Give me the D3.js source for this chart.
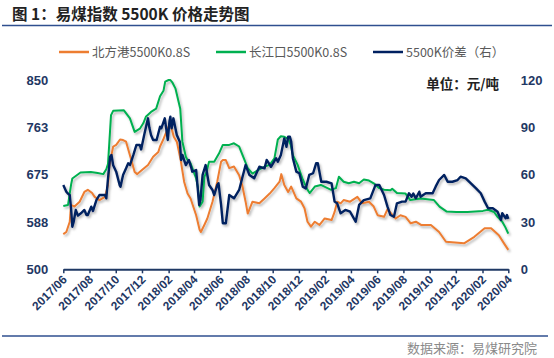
<!DOCTYPE html>
<html><head><meta charset="utf-8">
<script src="https://cdn.jsdelivr.net/npm/d3@7/dist/d3.min.js"></script>
<style>body{margin:0;background:#fff}</style>
</head><body>
<svg id="c" width="554" height="358"></svg>
<script>
const titleText = "图 1：易煤指数 5500K 价格走势图";
const unitText = "单位：元/吨";
const sourceText = "数据来源：易煤研究院";
const seriesNames = ["北方港5500K0.8S", "长江口5500K0.8S", "5500K价差（右）"];
const leftTicks = [500, 587.5, 675, 762.5, 850];
const rightTicks = [0, 30, 60, 90, 120];
const xStart = "2017-06-01", xEnd = "2020-04-01";

// 北方港5500K0.8S (left axis)
const north = [
["2017-06-01",565],["2017-06-08",569],["2017-06-16",588],["2017-06-19",619],["2017-06-27",616],
["2017-07-09",625],["2017-07-20",643],["2017-07-28",647],["2017-08-07",641],["2017-08-13",634],
["2017-08-24",628],["2017-09-06",634],["2017-09-13",656],["2017-09-16",690],["2017-09-21",711],
["2017-09-25",727],["2017-10-02",730],["2017-10-11",740],["2017-10-18",739],["2017-10-25",736],
["2017-11-03",711],["2017-11-14",680],["2017-11-20",676],["2017-12-03",685],["2017-12-15",693],
["2017-12-27",708],["2018-01-08",717],["2018-01-12",727],["2018-01-19",739],["2018-01-28",757],
["2018-02-04",770],["2018-02-08",760],["2018-02-13",745],["2018-02-20",736],["2018-03-01",702],
["2018-03-09",662],["2018-03-17",640],["2018-03-24",631],["2018-04-06",600],["2018-04-14",573],
["2018-04-17",569],["2018-04-25",582],["2018-05-02",594],["2018-05-14",625],["2018-05-25",662],
["2018-06-03",699],["2018-06-07",702],["2018-06-14",702],["2018-06-22",687],["2018-07-03",690],
["2018-07-15",674],["2018-07-22",656],["2018-07-30",625],["2018-08-04",603],["2018-08-15",625],
["2018-08-31",622],["2018-09-12",631],["2018-09-24",640],["2018-10-05",650],["2018-10-17",662],
["2018-10-21",676],["2018-10-28",656],["2018-11-06",643],["2018-11-13",653],["2018-11-25",631],
["2018-12-06",625],["2018-12-14",613],["2018-12-21",588],["2018-12-29",579],["2019-01-07",588],
["2019-01-18",582],["2019-01-30",594],["2019-02-15",591],["2019-02-22",606],["2019-02-28",625],
["2019-03-08",622],["2019-03-15",628],["2019-03-30",625],["2019-04-16",634],["2019-04-27",622],
["2019-05-13",625],["2019-05-24",616],["2019-06-02",600],["2019-06-17",597],["2019-06-25",611],
["2019-07-06",601],["2019-07-14",594],["2019-07-25",600],["2019-08-06",597],["2019-08-18",585],
["2019-08-30",588],["2019-09-11",582],["2019-10-04",582],["2019-10-23",569],["2019-11-08",551],
["2019-12-20",548],["2020-01-13",560],["2020-02-06",576],["2020-02-21",576],["2020-03-10",563],
["2020-03-22",548],["2020-04-01",536]
];

// 长江口5500K0.8S (left axis)
const river = [
["2017-06-01",617],["2017-06-12",619],["2017-06-19",656],["2017-06-22",668],["2017-07-11",679],
["2017-08-04",680],["2017-08-20",678],["2017-09-02",676],["2017-09-09",685],["2017-09-13",695],
["2017-09-20",785],["2017-09-25",793],["2017-10-20",794],["2017-11-03",779],["2017-11-14",754],
["2017-11-26",760],["2017-12-04",770],["2017-12-10",782],["2017-12-22",791],["2018-01-03",797],
["2018-01-12",820],["2018-01-20",830],["2018-01-24",847],["2018-02-01",850],["2018-02-05",850],
["2018-02-10",845],["2018-02-17",834],["2018-02-28",797],["2018-03-05",736],["2018-03-13",708],
["2018-03-17",702],["2018-03-24",696],["2018-04-06",668],["2018-04-10",652],["2018-04-14",616],
["2018-04-21",625],["2018-04-25",671],["2018-04-30",680],["2018-05-06",699],["2018-05-18",699],
["2018-05-29",714],["2018-06-07",730],["2018-06-22",730],["2018-07-03",733],["2018-07-15",727],
["2018-07-26",705],["2018-08-04",687],["2018-08-15",677],["2018-08-27",683],["2018-09-12",690],
["2018-09-24",693],["2018-10-05",705],["2018-10-13",740],["2018-10-20",746],["2018-10-28",745],
["2018-11-06",741],["2018-11-12",730],["2018-11-17",711],["2018-11-28",693],["2018-12-10",666],
["2018-12-21",647],["2018-12-26",641],["2019-01-07",653],["2019-01-21",656],["2019-02-14",647],
["2019-02-25",650],["2019-03-04",671],["2019-03-15",662],["2019-03-27",659],["2019-04-08",662],
["2019-04-20",659],["2019-05-01",666],["2019-05-13",664],["2019-05-24",659],["2019-06-06",650],
["2019-06-17",647],["2019-07-02",646],["2019-07-06",649],["2019-07-17",641],["2019-08-06",640],
["2019-08-17",628],["2019-09-10",631],["2019-10-11",628],["2019-10-24",616],["2019-11-09",607],
["2019-12-02",606],["2019-12-28",606],["2020-02-02",608],["2020-02-14",610],["2020-02-28",606],
["2020-03-07",597],["2020-03-18",588],["2020-03-25",578],["2020-04-01",566]
];

// 5500K价差（右） (right axis)
const spread = [
["2017-06-01",53.4],["2017-06-08",49.2],["2017-06-12",48],["2017-06-16",47],["2017-06-19",38.7],
["2017-06-22",27],["2017-06-25",30],["2017-06-30",37.6],["2017-07-05",34],["2017-07-12",35.5],
["2017-07-20",37.6],["2017-07-25",34.4],["2017-07-28",34.4],["2017-08-05",39.7],["2017-08-09",37],
["2017-08-17",43.9],["2017-08-24",47.1],["2017-09-06",47.1],["2017-09-09",45],["2017-09-13",57.7],
["2017-09-18",71.4],["2017-09-21",72.5],["2017-09-25",66],["2017-10-02",61.9],["2017-10-10",53.4],
["2017-10-12",52.4],["2017-10-18",59.8],["2017-10-25",64],["2017-10-30",67.2],["2017-11-03",66.1],
["2017-11-11",72.5],["2017-11-18",78.8],["2017-11-26",78.8],["2017-11-29",76],["2017-12-07",86.2],
["2017-12-15",95.7],["2017-12-18",90],["2017-12-22",85.1],["2017-12-27",82],["2018-01-04",82],
["2018-01-12",90.4],["2018-01-15",89.4],["2018-01-23",95.7],["2018-01-26",90],["2018-01-30",82],
["2018-02-03",94],["2018-02-05",96.7],["2018-02-08",89.4],["2018-02-12",95.7],["2018-02-20",85.1],
["2018-02-27",80.9],["2018-03-02",69.3],["2018-03-05",72.5],["2018-03-13",66.1],["2018-03-20",69.3],
["2018-03-25",65],["2018-03-28",61.9],["2018-04-06",62.9],["2018-04-09",53.4],["2018-04-13",40.8],
["2018-04-16",44],["2018-04-21",59.8],["2018-04-28",66.1],["2018-05-06",53.4],["2018-05-14",50.3],
["2018-05-18",47.1],["2018-05-25",53.4],["2018-05-28",54.5],["2018-06-03",40.8],["2018-06-07",29.2],
["2018-06-14",29.2],["2018-06-22",47.1],["2018-07-03",45],["2018-07-15",50.3],["2018-07-22",57.7],
["2018-07-30",66.1],["2018-08-08",59.8],["2018-08-19",57.7],["2018-08-31",65],["2018-09-12",64],
["2018-09-17",69.3],["2018-09-27",65],["2018-10-09",70.4],["2018-10-13",68.2],["2018-10-20",72.5],
["2018-10-28",83],["2018-11-02",77.7],["2018-11-06",84.1],["2018-11-10",84],["2018-11-13",80.9],
["2018-11-17",70.4],["2018-11-25",61.9],["2018-12-02",60.9],["2018-12-10",52.4],["2018-12-17",51.3],
["2018-12-25",59.8],["2019-01-03",60.9],["2019-01-10",67.2],["2019-01-14",67.2],["2019-01-22",55.5],
["2019-02-03",55.5],["2019-02-15",54.5],["2019-02-22",42.9],["2019-02-28",41.8],["2019-03-08",35.5],
["2019-03-19",37.6],["2019-03-30",36.5],["2019-04-12",30.2],["2019-04-20",40.8],["2019-05-01",43.9],
["2019-05-16",45],["2019-05-28",53.4],["2019-06-06",53.4],["2019-06-17",47.1],["2019-06-25",39.7],
["2019-07-02",34.4],["2019-07-10",33.3],["2019-07-17",41.8],["2019-07-29",42.9],["2019-08-06",42.9],
["2019-08-14",48.2],["2019-08-20",46],["2019-08-24",48],["2019-08-30",45],["2019-09-07",49.2],
["2019-09-10",46],["2019-09-22",48.2],["2019-10-08",48.2],["2019-10-15",52.4],["2019-10-23",56.6],
["2019-11-04",59.8],["2019-11-12",55.5],["2019-11-23",55.5],["2019-12-05",56.6],["2019-12-12",58.7],
["2019-12-24",57.7],["2020-01-05",54.5],["2020-01-17",51.3],["2020-01-28",48.2],["2020-02-06",42.9],
["2020-02-14",38.7],["2020-02-25",38.7],["2020-03-07",36.5],["2020-03-15",31.3],["2020-03-18",35.5],
["2020-03-26",32.3],["2020-03-29",34.4],["2020-04-01",32]
];

const colors = ["#ED7D31", "#00B050", "#002060"];
const axisColor = "#1F3864";

const parse = d3.timeParse("%Y-%m-%d");
const svg = d3.select("#c");
const x0 = 63.3, x1 = 508.3, yB = 269.3, yT = 80;

const x = d3.scaleTime().domain([parse(xStart), parse(xEnd)]).range([x0, x1]);
const yL = d3.scaleLinear().domain([500, 850]).range([yB, yT]);
const yR = d3.scaleLinear().domain([0, 120]).range([yB, yT]);

// filter for shadow
const defs = svg.append("defs");
const f = defs.append("filter").attr("id", "sh").attr("x", "-5%").attr("y", "-10%").attr("width", "115%").attr("height", "130%");
f.append("feDropShadow").attr("dx", 1.5).attr("dy", 2).attr("stdDeviation", 1.3)
  .attr("flood-color", "#000").attr("flood-opacity", 0.28);

// Title
svg.append("text").attr("x", 12).attr("y", 20)
  .attr("font-family", "'Noto Sans CJK SC', sans-serif").attr("font-weight", "bold")
  .attr("font-size", 15.5).attr("fill", "#222").text(titleText);
svg.append("line").attr("x1", 2).attr("x2", 552).attr("y1", 25.5).attr("y2", 25.5)
  .attr("stroke", "#2F4F8F").attr("stroke-width", 1.3);

// bottom rule
svg.append("line").attr("x1", 2).attr("x2", 548).attr("y1", 336).attr("y2", 336)
  .attr("stroke", "#2F4F8F").attr("stroke-width", 1.3);
svg.append("text").attr("x", 537).attr("y", 353).attr("text-anchor", "end")
  .attr("font-family", "'Noto Sans CJK SC', sans-serif").attr("font-size", 13)
  .attr("fill", "#8a8a8a").text(sourceText);

// Unit
svg.append("text").attr("x", 499).attr("y", 89).attr("text-anchor", "end")
  .attr("font-family", "'Noto Sans CJK SC', sans-serif").attr("font-weight", "bold")
  .attr("font-size", 13.5).attr("fill", "#222").text(unitText);

// Legend
const legX = [59, 216, 373];
seriesNames.forEach((n, i) => {
  const g = svg.append("g").attr("transform", `translate(${legX[i]},52)`);
  g.append("line").attr("x1", 0).attr("x2", 30).attr("y1", 0).attr("y2", 0)
    .attr("stroke", colors[i]).attr("stroke-width", 2.5);
  g.append("text").attr("x", 33).attr("y", 4.6)
    .attr("font-family", "'Noto Sans CJK SC', 'Noto Sans', sans-serif").attr("font-size", 12.5)
    .attr("fill", "#595959").text(n);
});

// Left axis
const gl = svg.append("g").attr("transform", `translate(${x0 - 15},0)`)
  .call(d3.axisLeft(yL).tickValues(leftTicks).tickSize(0).tickPadding(0).tickFormat(d3.format(".0f")));
gl.select(".domain").remove();
gl.selectAll("text").attr("font-family", "'Liberation Sans', Arial, sans-serif")
  .attr("font-size", 13).attr("font-weight", "bold").attr("fill", axisColor);

// Right axis
const gr = svg.append("g").attr("transform", `translate(${x1 + 12.5},0)`)
  .call(d3.axisRight(yR).tickValues(rightTicks).tickSize(0).tickPadding(0));
gr.select(".domain").remove();
gr.selectAll("text").attr("font-family", "'Liberation Sans', Arial, sans-serif")
  .attr("font-size", 13).attr("font-weight", "bold").attr("fill", axisColor);

// X axis: a tick every two months starting from June 2017
const xTicks = d3.timeMonth.range(parse(xStart), d3.timeDay.offset(parse(xEnd), 1), 2);
const gx = svg.append("g").attr("transform", `translate(0,${yB})`)
  .call(d3.axisBottom(x).tickValues(xTicks).tickSize(4).tickSizeOuter(0).tickFormat(d3.timeFormat("%Y/%m")));
gx.select(".domain").attr("stroke", axisColor).attr("stroke-width", 2);
gx.selectAll(".tick line").attr("stroke", axisColor).attr("stroke-width", 1.5);
gx.selectAll("text").attr("font-family", "'Liberation Sans', Arial, sans-serif")
  .attr("font-size", 12).attr("font-weight", "bold").attr("fill", axisColor)
  .attr("text-anchor", "end").attr("dy", 0).attr("y", 0)
  .attr("transform", "translate(4,11) rotate(-45)");

// Lines
const lineL = d3.line().x(d => x(parse(d[0]))).y(d => yL(d[1]));
const lineR = d3.line().x(d => x(parse(d[0]))).y(d => yR(d[1]));
const pl = svg.append("g").attr("filter", "url(#sh)");
pl.append("path").datum(north).attr("d", lineL).attr("fill", "none")
  .attr("stroke", colors[0]).attr("stroke-width", 2).attr("stroke-linejoin", "round");
pl.append("path").datum(river).attr("d", lineL).attr("fill", "none")
  .attr("stroke", colors[1]).attr("stroke-width", 2).attr("stroke-linejoin", "round");
pl.append("path").datum(spread).attr("d", lineR).attr("fill", "none")
  .attr("stroke", colors[2]).attr("stroke-width", 2.4).attr("stroke-linejoin", "round");
</script>
</body></html>
